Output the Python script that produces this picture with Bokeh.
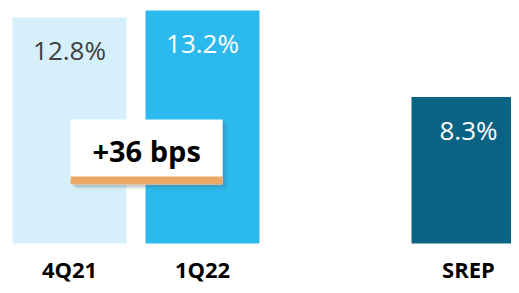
from bokeh.plotting import figure
from bokeh.models import ColumnDataSource, Range1d
from bokeh.core.properties import value
from bokeh.embed import file_html
from bokeh.resources import INLINE

# data
categories = ["4Q21", "1Q22", "SREP"]
positions = [0, 1, 3]
ratios = [12.8, 13.2, 8.3]
value_labels = ["12.8%", "13.2%", "8.3%"]
bar_colors = ["#D5F0FA", "#2BB9EE", "#0B6383"]
label_colors = ["#404040", "#FFFFFF", "#FFFFFF"]
change_label = "+36 bps"

src = ColumnDataSource(dict(x=positions, top=ratios, lab=value_labels,
                            cat=categories, color=bar_colors, lcolor=label_colors,
                            zero=[0] * len(positions)))

p = figure(width=511, height=285, output_backend="svg", toolbar_location=None,
           x_range=Range1d(-0.5188, 3.3233), y_range=Range1d(-2.378, 13.762),
           min_border=0, outline_line_color=None)
p.axis.visible = False
p.grid.visible = False
p.background_fill_color = "white"

p.vbar(x="x", top="top", bottom=0, width=0.857, color="color", source=src, line_color=None)

p.text(x="x", y="top", text="lab", source=src, text_color="lcolor",
       text_font=value("Open Sans"), text_font_size="26px",
       text_align="center", text_baseline="middle", y_offset=33)

p.text(x="x", y="zero", text="cat", source=src, text_color="#000000",
       text_font=value("Open Sans"), text_font_size="22px", text_font_style="bold",
       text_align="center", text_baseline="middle", y_offset=25)

# change annotation box between first two bars
bx = (positions[0] + positions[1]) / 2 + 0.08
by = 5.18
px_x = 1 / 133.0
px_y = 1 / 17.658
for off, a in [(5, 0.08), (3.5, 0.12), (2, 0.18)]:
    p.rect(x=[bx + off * px_x], y=[by - off * px_y], width=152, height=65,
           width_units="screen", height_units="screen",
           fill_color="#5a6a78", fill_alpha=a, line_color=None)
p.rect(x=[bx], y=[by], width=152, height=65, width_units="screen", height_units="screen",
       fill_color="white", line_color=None)
p.rect(x=[bx], y=[by - 28.5 * px_y], width=152, height=8, width_units="screen",
       height_units="screen", fill_color="#EDA865", line_color=None)
p.text(x=[bx], y=[by + 1.5 * px_y], text=[change_label], text_color="#000000",
       text_font=value("Open Sans"), text_font_size="29px", text_font_style="bold",
       text_align="center", text_baseline="middle")

open("out.html", "w").write(file_html(p, INLINE))
